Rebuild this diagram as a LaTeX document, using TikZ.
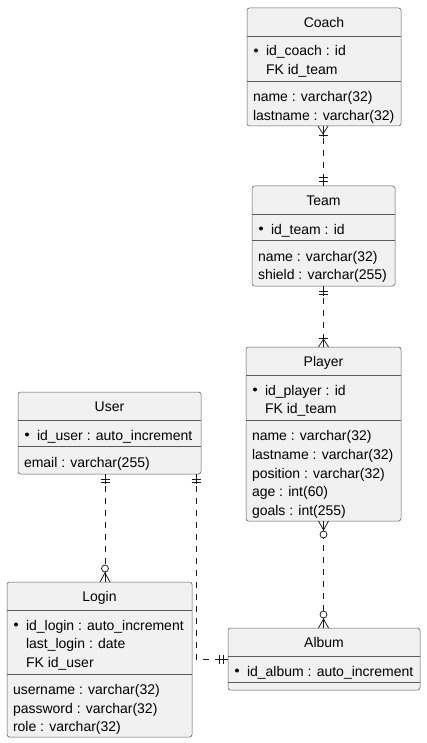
\documentclass[tikz,border=0pt]{standalone}
\usepackage{fontspec}
\setmainfont{Liberation Sans}
\usetikzlibrary{calc}
\definecolor{bg}{HTML}{F1F1F1}
\definecolor{lc}{HTML}{181818}
\definecolor{bc}{HTML}{5A5A5A}
\tikzset{
  ebox/.style={draw=bc, line width=0.5pt, fill=bg, rounded corners=2.5pt, inner sep=0pt, outer sep=0pt},
  esep/.style={draw=bc, line width=0.5pt},
  etxt/.style={inner sep=0pt, outer sep=0pt, font=\fontsize{14}{16}\selectfont, text=black},
  etitle/.style={etxt, anchor=base},
  eattr/.style={etxt, anchor=base west},
  ebul/.style={fill=black},
  rel/.style={draw=lc, line width=0.75pt, dash pattern=on 6pt off 6pt},
  mk/.style={draw=lc, line width=0.75pt, solid},
  pics/mkone/.style={code={
    \draw[mk] (0,0) -- (0,10);
    \draw[mk] (-4.5,5) -- (4.5,5);
    \draw[mk] (-4.5,8.5) -- (4.5,8.5);}},
  pics/mkonemany/.style={code={
    \draw[mk] (-5,0) -- (0,8) -- (5,0);
    \draw[mk] (0,0) -- (0,11);
    \draw[mk] (-4.5,9) -- (4.5,9);}},
  pics/mkzeromany/.style={code={
    \draw[mk] (-5,0) -- (0,9) -- (5,0);
    \draw[mk] (0,0) -- (0,10);
    \draw[mk, fill=white] (0,13.5) circle (3.5);}},
}
\newcommand\entbox[6]{%
  \node[ebox, minimum width={#4-#2}, minimum height={#5-#3}] (#1) at ({(#2+#4)/2},{(#3+#5)/2}) {};
  \node[etitle] (#1-t) at ({(#2+#4)/2},{#3+19.5}) {#6};
  \draw[esep] (#2,#3+28) -- (#4,#3+28);
}
\begin{document}
\begin{tikzpicture}[x=1pt,y=-1pt]
\useasboundingbox (0,0) rectangle (426,743);
\fill[white] (0,0) rectangle (426,743);

% Coach
\entbox{coach}{247}{8}{401}{126}{Coach}
\fill[ebul] (256,50.5) circle (2);
\node[eattr] (coach-a1) at (266,56) {id\_coach : id};
\node[eattr] (coach-a2) at (266,74.7) {FK id\_team};
\draw[esep] (247,81.2) -- (401,81.2);
\node[eattr] (coach-b1) at (253,101.7) {name : varchar(32)};
\node[eattr] (coach-b2) at (253,120.4) {lastname : varchar(32)};

% Team
\entbox{team}{252}{186}{395}{286}{Team}
\fill[ebul] (261,228.5) circle (2);
\node[eattr] (team-a1) at (271,234) {id\_team : id};
\draw[esep] (252,240.5) -- (395,240.5);
\node[eattr] (team-b1) at (258,261) {name : varchar(32)};
\node[eattr] (team-b2) at (258,279.7) {shield : varchar(255)};

% Player
\entbox{player}{246}{347}{401}{521}{Player}
\fill[ebul] (255,389.5) circle (2);
\node[eattr] (player-a1) at (265,395) {id\_player : id};
\node[eattr] (player-a2) at (265,413.7) {FK id\_team};
\draw[esep] (246,420.2) -- (401,420.2);
\node[eattr] (player-b1) at (252,440.7) {name : varchar(32)};
\node[eattr] (player-b2) at (252,459.4) {lastname : varchar(32)};
\node[eattr] (player-b3) at (252,478.1) {position : varchar(32)};
\node[eattr] (player-b4) at (252,496.8) {age : int(60)};
\node[eattr] (player-b5) at (252,515.5) {goals : int(255)};

% User
\entbox{user}{18}{392}{201}{474}{User}
\fill[ebul] (27,434.5) circle (2);
\node[eattr] (user-a1) at (37,440) {id\_user : auto\_increment};
\draw[esep] (18,446.5) -- (201,446.5);
\node[eattr] (user-b1) at (24,467) {email : varchar(255)};

% Login
\entbox{login}{7}{582}{192}{737}{Login}
\fill[ebul] (16,624.5) circle (2);
\node[eattr] (login-a1) at (26,630) {id\_login : auto\_increment};
\node[eattr] (login-a2) at (26,648.7) {last\_login : date};
\node[eattr] (login-a3) at (26,667.4) {FK id\_user};
\draw[esep] (7,673.9) -- (192,673.9);
\node[eattr] (login-b1) at (13,694.4) {username : varchar(32)};
\node[eattr] (login-b2) at (13,713.1) {password : varchar(32)};
\node[eattr] (login-b3) at (13,731.8) {role : varchar(32)};

% Album
\entbox{album}{228}{628}{420}{690}{Album}
\fill[ebul] (237,670.5) circle (2);
\node[eattr] (album-a1) at (247,676) {id\_album : auto\_increment};
\draw[esep] (228,682.5) -- (420,682.5);

% Relations
\coordinate (ct) at ($(coach.south)+(-1,0)$);
\coordinate (tc) at (ct |- team.north);
\draw[rel] (ct) -- (tc);
\pic at (ct) {mkonemany};
\pic[rotate=180] at (tc) {mkone};

\coordinate (tp) at ($(team.south)+(0,0)$);
\coordinate (pt) at (tp |- player.north);
\draw[rel] (tp) -- (pt);
\pic at (tp) {mkone};
\pic[rotate=180] at (pt) {mkonemany};

\coordinate (pa) at (player.south);
\coordinate (ap) at (pa |- album.north);
\draw[rel] (pa) -- (ap);
\pic at (pa) {mkzeromany};
\pic[rotate=180] at (ap) {mkzeromany};

\coordinate (ul) at ($(user.south)+(-4.5,0)$);
\coordinate (lu) at (ul |- login.north);
\draw[rel] (ul) -- (lu);
\pic at (ul) {mkone};
\pic[rotate=180] at (lu) {mkzeromany};

\coordinate (ua) at ($(user.south east)+(-5,0)$);
\draw[rel] (ua) |- (album.west);
\pic at (ua) {mkone};
\pic[rotate=-90] at (album.west) {mkone};
\end{tikzpicture}
\end{document}
